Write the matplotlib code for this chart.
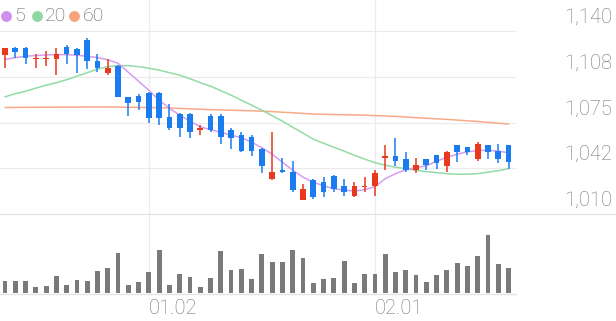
import matplotlib
matplotlib.use('Agg')
import matplotlib.pyplot as plt
from matplotlib.patches import Rectangle
from matplotlib.lines import Line2D
import matplotlib.transforms as mtransforms
import numpy as np

# ---------------- data ----------------
opens  = [1123, 1128, 1128, 1120, 1120, 1120, 1129, 1127, 1134, 1119,
          1110, 1115, 1093, 1094, 1096, 1096, 1079, 1081, 1081, 1070,
          1080, 1080, 1070, 1066, 1065, 1056, 1035, 1041, 1040, 1020,
          1034, 1033, 1037, 1030, 1023, 1029, 1030, 1050, 1051, 1049,
          1041, 1049, 1052, 1044, 1059, 1058, 1049, 1059, 1055, 1059]
highs  = [1128, 1129, 1129, 1124, 1126, 1128, 1130, 1128, 1135, 1124,
          1120, 1116, 1093, 1095, 1097, 1097, 1088, 1082, 1082, 1073,
          1081, 1081, 1071, 1068, 1066, 1057, 1068, 1050, 1048, 1031,
          1035, 1036, 1038, 1035, 1033, 1036, 1041, 1059, 1064, 1054,
          1050, 1049, 1052, 1055, 1059, 1058, 1061, 1059, 1060, 1059]
lows   = [1114, 1121, 1117, 1114, 1115, 1109, 1117, 1110, 1113, 1111,
          1109, 1093, 1080, 1084, 1075, 1073, 1070, 1065, 1064, 1066,
          1068, 1060, 1056, 1054, 1051, 1039, 1034, 1039, 1026, 1020,
          1021, 1022, 1026, 1023, 1022, 1026, 1023, 1041, 1044, 1040,
          1039, 1041, 1042, 1040, 1047, 1052, 1048, 1049, 1046, 1042]
closes = [1128, 1125, 1121, 1121, 1121, 1124, 1124, 1123, 1119, 1114,
          1114, 1093, 1089, 1090, 1078, 1078, 1071, 1071, 1068, 1071,
          1070, 1065, 1064, 1055, 1055, 1044, 1040, 1040, 1027, 1028,
          1022, 1026, 1028, 1026, 1030, 1030, 1039, 1051, 1048, 1041,
          1045, 1045, 1046, 1054, 1054, 1054, 1060, 1054, 1049, 1047]
volumes = [123, 117, 117, 60, 73, 167, 83, 130, 117, 217,
           247, 400, 80, 107, 207, 433, 80, 187, 160, 60,
           153, 420, 230, 240, 143, 387, 307, 313, 430, 353,
           103, 140, 147, 317, 97, 187, 193, 393, 213, 233,
           177, 113, 180, 227, 303, 273, 370, 580, 293, 247]
ma5 = [1119.9, 1121.2, 1122.2, 1122.7, 1123.1, 1123.4, 1123.3, 1122.9, 1122.2, 1121.2,
       1119.7, 1117.2, 1110.8, 1104.4, 1098.0, 1090.9, 1085.2, 1080.3, 1076.0, 1072.1,
       1069.9, 1068.2, 1066.0, 1064.3, 1061.1, 1057.1, 1052.5, 1046.8, 1041.1, 1036.2,
       1032.6, 1030.1, 1028.0, 1026.9, 1026.4, 1027.3, 1029.4, 1035.1, 1038.7, 1041.5,
       1042.9, 1044.3, 1047.5, 1050.4, 1052.5, 1054.3, 1055.0, 1055.4, 1054.7, 1053.6]
ma20 = [1093.3, 1095.6, 1097.3, 1099.5, 1101.6, 1103.4, 1105.5, 1108.0, 1110.5, 1113.0,
        1114.8, 1115.5, 1115.5, 1114.8, 1113.7, 1112.3, 1110.5, 1108.7, 1106.2, 1103.4,
        1100.9, 1097.7, 1094.5, 1090.9, 1087.4, 1083.8, 1079.9, 1076.0, 1071.7, 1067.5,
        1063.2, 1060.3, 1057.5, 1054.7, 1051.8, 1049.0, 1046.5, 1044.7, 1043.3, 1042.2,
        1041.1, 1040.1, 1039.4, 1038.7, 1038.3, 1038.3, 1038.7, 1039.7, 1040.8, 1042.2]
ma60 = [1085.7, 1085.8, 1085.8, 1085.9, 1085.9, 1086.0, 1086.0, 1086.0, 1086.1, 1086.1,
        1086.1, 1086.0, 1085.9, 1085.8, 1085.7, 1085.6, 1085.4, 1085.1, 1084.8, 1084.5,
        1084.2, 1084.0, 1083.8, 1083.6, 1083.4, 1083.1, 1082.8, 1082.4, 1082.0, 1081.5,
        1081.1, 1080.9, 1080.7, 1080.6, 1080.4, 1080.3, 1080.0, 1079.7, 1079.4, 1079.0,
        1078.5, 1078.1, 1077.7, 1077.3, 1076.8, 1076.3, 1075.8, 1075.2, 1074.6, 1073.9]
ytick_values = [1140, 1107.5, 1075, 1042.5, 1010]
ytick_labels = ["1,140", "1,108", "1,075", "1,042", "1,010"]
xtick_index = [14, 36]
xtick_labels = ["01.02", "02.01"]
legend_labels = ["5", "20", "60"]

# ---------------- style ----------------
UP = '#e8381e'
DOWN = '#1b7cf0'
MA_COLORS = ['#d79cf2', '#93dba7', '#f8ab86']
LEG_COLORS = ['#cf8fee', '#8fd8a3', '#f6a47c']
GRID = '#ebebeb'
TXT = '#747474'
FONT = 'Roboto'

W, H = 616, 321
fig = plt.figure(figsize=(W / 100, H / 100), dpi=100)
fig.patch.set_facecolor('white')


def fa(x0, y0, x1, y1):
    return [x0 / W, 1 - y1 / H, (x1 - x0) / W, (y1 - y0) / H]


ax = fig.add_axes(fa(0, 0, 516, 214))
axv = fig.add_axes(fa(0, 231, 516, 293))
n = len(opens)
x = np.arange(n)
xlim = (-0.487, 49.727)
for a in (ax, axv):
    a.set_xlim(*xlim)
    a.axis('off')
ax.set_ylim(1010, 1010 + 214 / 45.7 * 32.5)
axv.set_ylim(0, 620)

# grid
for v in ytick_values[:-1]:
    ax.axhline(v, color=GRID, lw=0.9, zorder=0)
fig.add_artist(Line2D([0, 1], [1 - 213.5 / H] * 2, transform=fig.transFigure,
                      color='#e4e4e4', lw=0.9))
fig.add_artist(Line2D([0, 516 / W], [1 - 293.5 / H] * 2, transform=fig.transFigure,
                      color='#e4e4e4', lw=0.9))
btr = mtransforms.blended_transform_factory(ax.transData, fig.transFigure)
for idx in xtick_index:
    fig.add_artist(Line2D([idx, idx], [1 - 293 / H, 1], transform=btr,
                          color=GRID, lw=0.9, zorder=0))

# MA lines
for vals, col in zip([ma60, ma20, ma5], [MA_COLORS[2], MA_COLORS[1], MA_COLORS[0]]):
    ax.plot(x, vals, color=col, lw=1.1, zorder=2, solid_capstyle='round')

# candles
bw = 0.55
for i in range(n):
    o, h, l, c = opens[i], highs[i], lows[i], closes[i]
    col = UP if c > o else DOWN
    ax.vlines(i, l, h, color=col, lw=1.1, zorder=3)
    bot = min(o, c)
    hgt = abs(c - o)
    if hgt < 1.2:
        bot = (o + c) / 2 - 0.6
        hgt = 1.2
    ax.add_patch(Rectangle((i - bw / 2, bot), bw, hgt, facecolor=col,
                           edgecolor='none', zorder=4))

# volume
axv.bar(x, volumes, width=0.47, color='#7a7a7a', zorder=2)

# y labels
ytr = mtransforms.blended_transform_factory(ax.transAxes, ax.transData)
ytr = mtransforms.offset_copy(ytr, fig=fig, x=0, y=13.5, units='dots')
for v, lab in zip(ytick_values, ytick_labels):
    ax.text(612 / 516, v, lab, transform=ytr, ha='right', va='center',
            fontsize=14.5, color=TXT, family=FONT, fontweight='light', clip_on=False)

# x labels
for idx, lab in zip(xtick_index, xtick_labels):
    fig.text(idx, 1 - 309 / H, lab, transform=btr, ha='left', va='center',
             fontsize=14.5, color=TXT, family=FONT, fontweight='light')

# legend
lx_circle = [6, 37, 74]
lx_text = [14, 45, 83]
for cx, tx, col, lab in zip(lx_circle, lx_text, LEG_COLORS, legend_labels):
    fig.add_artist(Line2D([cx / W], [1 - 15.7 / H], transform=fig.transFigure,
                          marker='o', markersize=6.8, color=col, lw=0))
    fig.text(tx / W, 1 - 15.7 / H, lab, ha='left', va='center', fontsize=14,
             color='#5e5e5e', family=FONT, fontweight='light')

fig.savefig('out.png', dpi=100, facecolor='white')
